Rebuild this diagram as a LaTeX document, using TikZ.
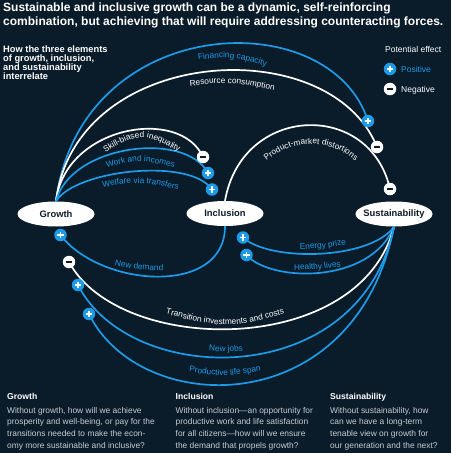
\documentclass[tikz,border=0pt]{standalone}
\usepackage{fontspec}
\setmainfont{Liberation Sans}
\usetikzlibrary{shapes.geometric,decorations.text}
\definecolor{bg}{RGB}{10,27,42}
\definecolor{cblue}{RGB}{28,155,232}
\definecolor{bodytxt}{RGB}{200,206,212}
\definecolor{darktxt}{RGB}{15,28,40}
\newcommand\lblfont{\fontsize{8.3}{10}\selectfont}
\tikzset{
  ell/.style={ellipse, fill=white, minimum width=77pt, minimum height=25pt, inner sep=0pt},
  elltext/.style={font=\bfseries\fontsize{9.4}{11}\selectfont, text=darktxt},
  barc/.style={draw=cblue, line width=1.7pt},
  warc/.style={draw=white, line width=1.7pt},
  possign/.style={circle, fill=cblue, minimum size=12.5pt, inner sep=0pt,
    path picture={\draw[white, line width=1.4pt] (path picture bounding box.center) +(-3.2pt,0) -- +(3.2pt,0) (path picture bounding box.center) +(0,-3.2pt) -- +(0,3.2pt);}},
  negsign/.style={circle, fill=white, minimum size=12.5pt, inner sep=0pt,
    path picture={\draw[darktxt, line width=1.4pt] (path picture bounding box.center) +(-3.2pt,0) -- +(3.2pt,0);}},
  blbl/.style={decorate, decoration={text along path, text align=center, text={|\lblfont\color{cblue}|#1}}},
  wlbl/.style={decorate, decoration={text along path, text align=center, text={|\lblfont\color{white}|#1}}},
  bodyfont/.style={font=\fontsize{8.4}{11.7}\selectfont, text=bodytxt, align=left, inner sep=0pt, anchor=base west},
  headfont/.style={font=\bfseries\fontsize{8.6}{10}\selectfont, text=white, inner sep=0pt, anchor=base west},
  legfont/.style={font=\fontsize{8.5}{10}\selectfont, inner sep=0pt, anchor=base west},
}
\begin{document}
\begin{tikzpicture}[x=1pt,y=-1pt,trim left=0pt,trim right=451pt]
\useasboundingbox (0,0) rectangle (451,453);
\fill[bg] (0,0) rectangle (451,453);

% title (base anchor = baseline of the last line)
\node[anchor=base west, inner sep=0pt, align=left, text=white, font=\bfseries\fontsize{12}{14.2}\selectfont] (title) at (3,25.3) {Sustainable and inclusive growth can be a dynamic, self-reinforcing\\combination, but achieving that will require addressing counteracting forces.};
\node[anchor=base west, inner sep=0pt, align=left, text=white, font=\bfseries\fontsize{9.3}{8.9}\selectfont] (sub) at (3,79.2) {How the three elements\\of growth, inclusion,\\and sustainability\\interrelate};

% legend
\node[legfont, text=white] (lt) at (385,52) {Potential effect};
\node[possign] (lp) at (390,69) {};
\node[legfont, text=cblue] (lpt) at (401,72) {Positive};
\node[negsign] (ln) at (390,89) {};
\node[legfont, text=white] (lnt) at (401,92) {Negative};

% main nodes
\node[ell, label={[elltext]center:Growth}] (G) at (56,214) {};
\node[ell, label={[elltext]center:Inclusion}] (I) at (225,213.5) {};
\node[ell, label={[elltext]center:Sustainability}] (S) at (394,214) {};

% arc ends
\coordinate (sF) at (368,121);
\coordinate (sR) at (377,147);
\coordinate (sK) at (203,157);
\coordinate (sW) at (208,173);
\coordinate (sT) at (212,189.5);
\coordinate (sP) at (390,189);
\coordinate (sD) at (60.5,235);
\coordinate (sE) at (243,237.5);
\coordinate (sH) at (246.5,255);
\coordinate (sX) at (69,262);
\coordinate (sJ) at (78,285);
\coordinate (sL) at (89,314);

% arcs
\draw[barc] (G.north) .. controls (80,12) and (330,2) .. (sF);
\draw[warc] (G.north) .. controls (75,45) and (330,30) .. (sR);
\draw[warc] (G.north) .. controls (65,126) and (180,106) .. (sK);
\draw[barc] (G.north) .. controls (70,145) and (185,130) .. (sW);
\draw[barc] (G.north) .. controls (75,170) and (190,157) .. (sT);
\draw[warc] (I.north) .. controls (242,104) and (370,100) .. (sP);
\draw[barc] (I.south) .. controls (225,297) and (100,287) .. (sD);
\draw[barc] (S.south) .. controls (370,260) and (270,262) .. (sE);
\draw[barc] (S.south) .. controls (370,285) and (270,282) .. (sH);
\draw[warc] (S.south) .. controls (360,358) and (120,356) .. (sX);
\draw[barc] (S.south) .. controls (360,392) and (130,388) .. (sJ);
\draw[barc] (S.south) .. controls (355,423) and (140,418) .. (sL);

% arc labels
\path[blbl=Financing capacity] (188,61) .. controls (230,56) .. (276,69);
\path[wlbl=Resource consumption] (183,87) .. controls (230,81) .. (281,92);
\path[wlbl=Skill-biased inequality] (98,157) .. controls (141,131) .. (186,156);
\path[blbl=Work and incomes] (101,169) .. controls (140,159) .. (180,169);
\path[blbl=Welfare via transfers] (97,188) .. controls (140,181) .. (184,191);
\path[wlbl=Product-market distortions] (256.9,172.1) .. controls (283.2,134.6) and (338.8,134.6) .. (365.1,172.1);
\path[blbl=New demand] (108,264) .. controls (138,270) .. (170,271);
\path[blbl=Energy prize] (294,249.5) .. controls (322,248.5) .. (352,243.5);
\path[blbl=Healthy lives] (288,270) .. controls (316,270) .. (347,266);
\path[wlbl=Transition investments and costs] (158,312) .. controls (225,329) .. (292,312);
\path[blbl=New jobs] (200,350) .. controls (226,352.5) .. (252,350);
\path[blbl=Productive life span] (182,371) .. controls (225,377) .. (268,370);

% signs
\node[possign] (mF) at (sF) {};
\node[negsign] (mR) at (sR) {};
\node[negsign] (mK) at (sK) {};
\node[possign] (mW) at (sW) {};
\node[possign] (mT) at (sT) {};
\node[negsign] (mP) at (sP) {};
\node[possign] (mD) at (sD) {};
\node[possign] (mE) at (sE) {};
\node[possign] (mH) at (sH) {};
\node[negsign] (mX) at (sX) {};
\node[possign] (mJ) at (sJ) {};
\node[possign] (mL) at (sL) {};

% bottom texts
\node[headfont] (hG) at (7,399) {Growth};
\node[bodyfont] (bG) at (7,448.1) {Without growth, how will we achieve\\prosperity and well-being, or pay for the\\transitions needed to make the econ-\\omy more sustainable and inclusive?};
\node[headfont] (hI) at (175.5,399) {Inclusion};
\node[bodyfont] (bI) at (175.5,448.1) {Without inclusion—an opportunity for\\productive work and life satisfaction\\for all citizens—how will we ensure\\the demand that propels growth?};
\node[headfont] (hS) at (330,399) {Sustainability};
\node[bodyfont] (bS) at (330,448.1) {Without sustainability, how\\can we have a long-term\\tenable view on growth for\\our generation and the next?};
\end{tikzpicture}
\end{document}
